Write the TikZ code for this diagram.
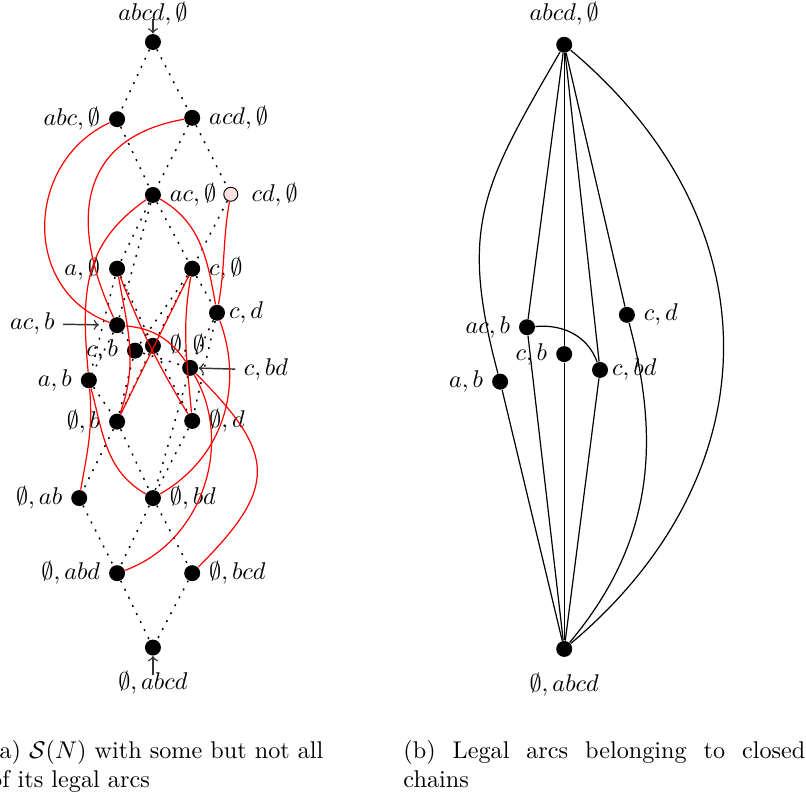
\documentclass[tikz,border=0pt]{standalone}
\usetikzlibrary{positioning}
\usepackage{xcolor}

\begin{document}
\begin{tikzpicture}[
    dot/.style={circle, fill, inner sep=0pt, minimum size=6.6pt},
    hasse/.style={dash pattern=on 0.8pt off 2.9pt, line width=0.6pt},
    legal/.style={red, line width=0.5pt},
    chain/.style={black, line width=0.5pt},
    ptr/.style={->, black!80, semithick}
  ]
    \useasboundingbox (0,0) rectangle (11.70,-11.57);

    % left: S(N)
    \node[dot] (top) at (2.22,-0.61) {};
    \node[dot, label=left:{$abc,\emptyset$}] (abc) at (1.70,-1.73) {};
    \node[dot, label=right:{$acd,\emptyset$}] (acd) at (2.79,-1.71) {};
    \node[dot, label=right:{$ac,\emptyset$}] (acz) at (2.22,-2.83) {};
    \node[circle, draw, fill=red!12, inner sep=0pt, minimum size=5.8pt, label={[label distance=2pt]right:{$cd,\emptyset$}}] (cdz) at (3.35,-2.82) {};
    \node[dot, label=left:{$a,\emptyset$}] (az) at (1.70,-3.90) {};
    \node[dot, label=right:{$c,\emptyset$}] (cz) at (2.79,-3.90) {};
    \node[dot, label={[label distance=-2pt]right:{$c,d$}}] (cd) at (3.15,-4.54) {};
    \node[dot] (acb) at (1.70,-4.72) {};
    \node[dot, label=right:{$\emptyset,\emptyset$}] (zz) at (2.22,-5.02) {};
    \node[dot, label={[label distance=0pt]left:{$c,b$}}] (cb) at (1.96,-5.09) {};
    \node[dot] (cbd) at (2.76,-5.34) {};
    \node[dot, label=left:{$a,b$}] (ab) at (1.29,-5.52) {};
    \node[dot, label=left:{$\emptyset,b$}] (zb) at (1.70,-6.12) {};
    \node[dot, label=right:{$\emptyset,d$}] (zd) at (2.79,-6.11) {};
    \node[dot, label=left:{$\emptyset,ab$}] (zab) at (1.15,-7.23) {};
    \node[dot, label=right:{$\emptyset,bd$}] (zbd) at (2.22,-7.23) {};
    \node[dot, label=left:{$\emptyset,abd$}] (zabd) at (1.70,-8.32) {};
    \node[dot, label=right:{$\emptyset,bcd$}] (zbcd) at (2.79,-8.32) {};
    \node[dot] (bot) at (2.22,-9.40) {};

    \node[inner sep=0pt] (toplab) at (2.22,-0.20) {$abcd,\emptyset$};
    \node[inner sep=0pt] (botlab) at (2.22,-9.91) {$\emptyset,abcd$};
    \node (acblab) at (0.47,-4.70) {$ac,b$};
    \node (cbdlab) at (3.86,-5.37) {$c,bd$};

    \draw[ptr] ([yshift=-2pt]toplab.center) -- (top);
    \draw[ptr] ([yshift=3pt]botlab.center) -- (bot);
    \draw[ptr, shorten >=4pt] (acblab) -- (acb);
    \draw[ptr] (cbdlab) -- (cbd);

    \foreach \a/\b in {top/abc, top/acd, abc/acz, acd/acz, acd/cdz, acz/az, acz/cz, acz/acb,
        cdz/cz, cz/cd, az/zz, cz/zz, az/ab, cz/cb, acb/ab, acb/cb, cb/cbd, cd/cbd,
        cb/zb, ab/zb, zz/zb, zz/zd, cd/zd, cbd/zbd, zb/zbd, zd/zbd, zb/zab,
        zab/zabd, zbd/zabd, zbd/zbcd, zabd/bot, zbcd/bot}
      \draw[hasse] (\a) -- (\b);

    \draw[legal] (abc) to[out=205, in=160, looseness=1.2] (acb);
    \draw[legal] (acd) to[out=190, in=115, looseness=1.3] (acb);
    \draw[legal] (acz) to[out=215, in=95, looseness=1.1] (ab);
    \draw[legal] (acz) to[out=-30, in=100] (cd);
    \draw[legal] (cdz) to[out=-100, in=80] (cd);
    \draw[legal] (az) to[bend right=5] (zd);
    \draw[legal] (az) to[out=-80, in=70] (zb);
    \draw[legal] (cz) -- (zb);
    \draw[legal] (cz) to[out=-100, in=95] (zd);
    \draw[legal] (acb) to[out=-5, in=125] (cbd);
    \draw[legal] (ab) to[out=-85, in=80] (zab);
    \draw[legal] (ab) to[out=-75, in=150] (zbd);
    \draw[legal] (cbd) to[out=-45, in=45, looseness=1.5] (zbcd);
    \draw[legal] (cd) to[out=-70, in=30] (zbd);
    \draw[legal] (cbd) to[out=-60, in=20] (zabd);

    % right: closed chains
    \node[dot, label={[label distance=1pt]above:{$abcd,\emptyset$}}] (Rtop) at (8.19,-0.65) {};
    \node[dot, label=left:{$ac,b$}] (Racb) at (7.65,-4.75) {};
    \node[dot, label=left:{$c,b$}] (Rcb) at (8.19,-5.14) {};
    \node[dot, label={[label distance=-2pt]right:{$c,bd$}}] (Rcbd) at (8.71,-5.37) {};
    \node[dot, label=right:{$c,d$}] (Rcd) at (9.10,-4.57) {};
    \node[dot, label=left:{$a,b$}] (Rab) at (7.26,-5.54) {};
    \node[dot, label={[label distance=3pt]below:{$\emptyset,abcd$}}] (Rbot) at (8.19,-9.42) {};

    \draw[chain] (Rtop) to[out=240, in=105, looseness=1.2] (Rab);
    \draw[chain] (Rab) -- (Rbot);
    \foreach \n in {Racb, Rcb, Rcbd} {
      \draw[chain] (Rtop) -- (\n);
      \draw[chain] (\n) -- (Rbot);
    }
    \draw[chain] (Rtop) -- (Rcd);
    \draw[chain] (Rcd) to[out=-75, in=50] (Rbot);
    \draw[chain] (Rtop) to[out=-40, in=40, looseness=1.15] (Rbot);
    \draw[chain] (Racb) to[out=5, in=110] (Rcbd);

    \node[anchor=north west, inner sep=0pt, align=left] (capa) at (-0.15,-10.74)
      {(a) $\mathcal{S}(N)$ with some but not all\\of its legal arcs};
    \node[anchor=north west, inner sep=0pt, text width=166pt, align=justify] (capb) at (5.85,-10.74)
      {(b) Legal arcs belonging to closed chains};
\end{tikzpicture}
\end{document}
